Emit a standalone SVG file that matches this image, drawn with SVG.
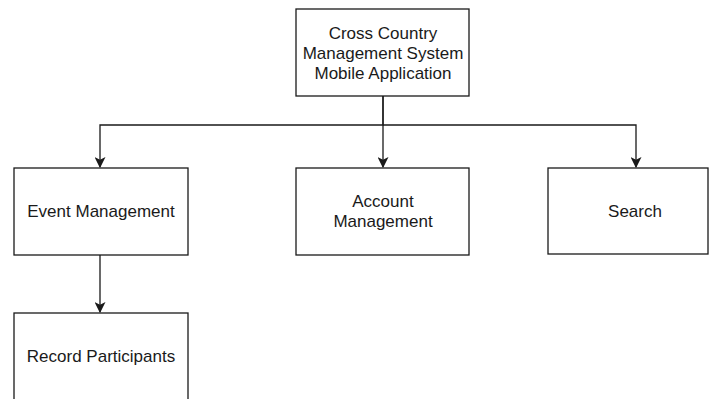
<svg xmlns="http://www.w3.org/2000/svg" width="710" height="399" viewBox="0 0 710 399">
  <style>
    .box { fill: #ffffff; stroke: #1a1a1a; stroke-width: 1.3; }
    .lbl { font-family: "Liberation Sans", Arial, sans-serif; font-size: 17px; fill: #1a1a1a; text-anchor: middle; }
    .edge { fill: none; stroke: #1a1a1a; stroke-width: 1.3; }
  </style>
  <defs>
    <marker id="arrow" viewBox="0 0 10 10" refX="9" refY="5" markerWidth="11" markerHeight="11" markerUnits="userSpaceOnUse" orient="auto">
      <path d="M0,0 L10,5 L0,10 L2.5,5 Z" fill="#1a1a1a"/>
    </marker>
  </defs>
  <rect width="710" height="399" fill="#ffffff"/>

  <g id="connectors">
    <path class="edge" d="M383,96 V125 H100 V167" marker-end="url(#arrow)"/>
    <path class="edge" d="M383,96 V167" marker-end="url(#arrow)"/>
    <path class="edge" d="M383,125 H636 V167" marker-end="url(#arrow)"/>
    <path class="edge" d="M100,255 V312" marker-end="url(#arrow)"/>
  </g>

  <g id="root">
    <rect class="box" x="296" y="9" width="173" height="87"/>
    <text class="lbl" x="383" y="39">Cross Country</text>
    <text class="lbl" x="383" y="59">Management System</text>
    <text class="lbl" x="383" y="79">Mobile Application</text>
  </g>

  <g id="event-management">
    <rect class="box" x="14" y="168" width="174" height="87"/>
    <text class="lbl" x="101" y="217">Event Management</text>
  </g>

  <g id="account-management">
    <rect class="box" x="296" y="168" width="173" height="87"/>
    <text class="lbl" x="383" y="207">Account</text>
    <text class="lbl" x="383" y="227">Management</text>
  </g>

  <g id="search">
    <rect class="box" x="548" y="168" width="160" height="86"/>
    <text class="lbl" x="635" y="217">Search</text>
  </g>

  <g id="record-participants">
    <rect class="box" x="14" y="313" width="174" height="90"/>
    <text class="lbl" x="101" y="362">Record Participants</text>
  </g>
</svg>
